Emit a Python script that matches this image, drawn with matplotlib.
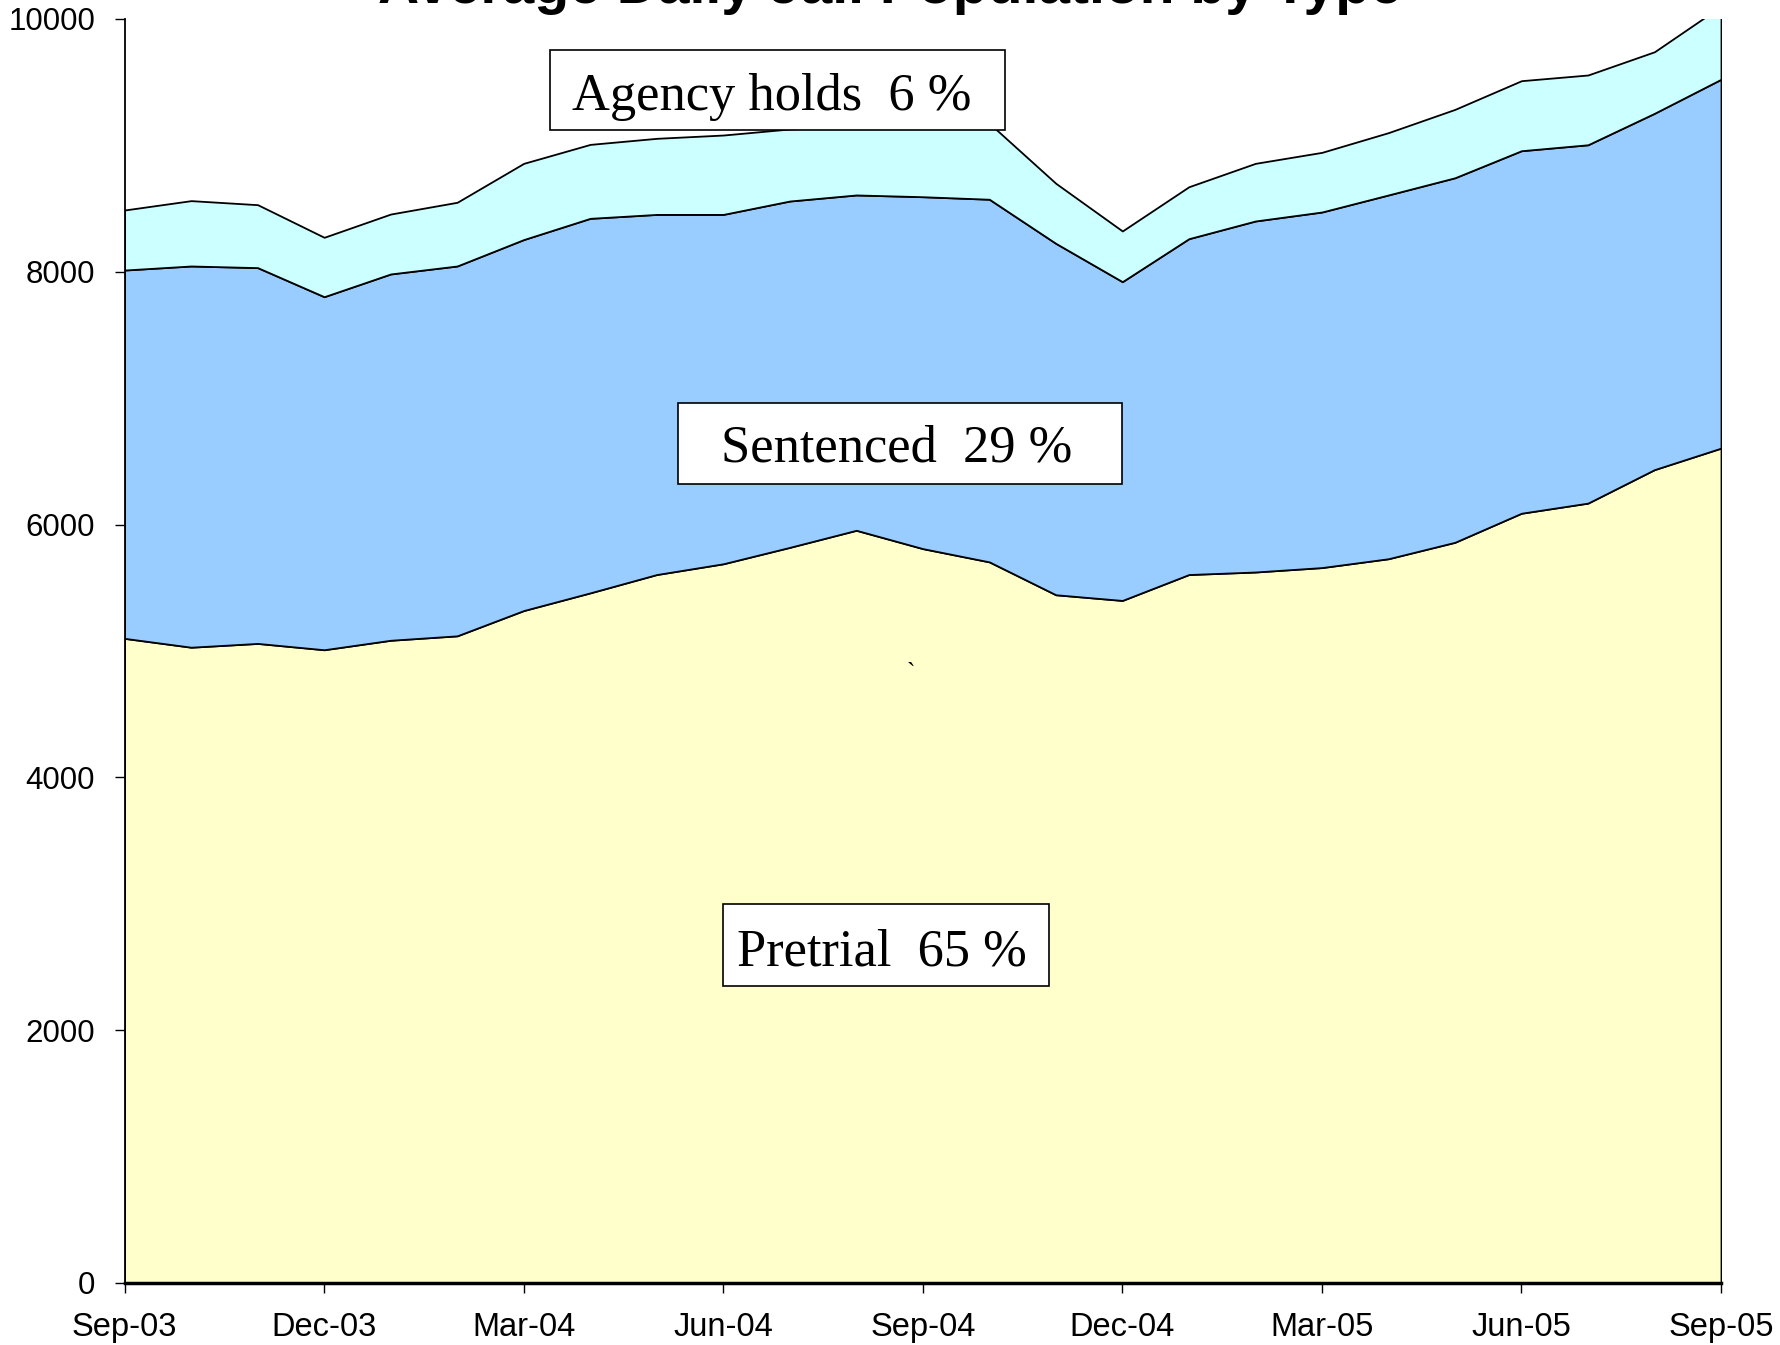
import matplotlib
matplotlib.use("Agg")
import matplotlib.pyplot as plt
from matplotlib.patches import Rectangle
import numpy as np

# monthly averages, Sep-03 .. Sep-05
months = ["Sep-03", "Oct-03", "Nov-03", "Dec-03", "Jan-04", "Feb-04", "Mar-04",
          "Apr-04", "May-04", "Jun-04", "Jul-04", "Aug-04", "Sep-04", "Oct-04",
          "Nov-04", "Dec-04", "Jan-05", "Feb-05", "Mar-05", "Apr-05", "May-05",
          "Jun-05", "Jul-05", "Aug-05", "Sep-05"]
pretrial = [5100, 5030, 5060, 5010, 5085, 5120, 5320, 5460, 5605, 5690, 5820, 5955, 5810,
            5705, 5445, 5400, 5605, 5625, 5660, 5730, 5860, 6090, 6170, 6435, 6605]
sentenced = [2914, 3016, 2973, 2793, 2898, 2926, 2935, 2963, 2849, 2764, 2740, 2653, 2784,
             2869, 2780, 2522, 2657, 2777, 2813, 2878, 2884, 2868, 2835, 2819, 2918]
agency = [475, 517, 498, 470, 474, 504, 603, 585, 602, 628, 570, 542, 566,
          601, 475, 401, 411, 456, 472, 493, 541, 554, 552, 487, 577]

tick_idx = list(range(0, 25, 3))
yticks = [0, 2000, 4000, 6000, 8000, 10000]

title = "Average Daily Jail Population by Type"
labels = ["Pretrial  65 %", "Sentenced  29 %", "Agency holds  6 %"]
colors = ["#FFFFCC", "#99CCFF", "#CCFFFF"]

W, H = 1780, 1345
fig = plt.figure(figsize=(W / 100, H / 100), dpi=100)
ax = fig.add_axes([124.6 / W, 1 - 1283 / H, (1721 - 124.6) / W, (1283 - 19) / H])

x = np.arange(len(months))
ax.stackplot(x, pretrial, sentenced, agency, colors=colors,
             edgecolor="black", linewidth=1.3)

ax.set_xlim(0, len(months) - 1)
ax.set_ylim(0, 10000)
ax.set_xticks(tick_idx)
ax.set_xticklabels([months[i] for i in tick_idx])
ax.set_yticks(yticks)
ax.set_yticklabels([str(v) for v in yticks])

for s in ["top", "right"]:
    ax.spines[s].set_visible(False)
ax.spines["left"].set_linewidth(1.3)
ax.spines["bottom"].set_linewidth(2.5)
ax.tick_params(axis="both", direction="out", length=7.2, width=1, colors="black")
ax.tick_params(axis="y", pad=14, labelsize=22.5)
ax.tick_params(axis="x", pad=14, labelsize=23.5)
for lab in ax.get_xticklabels() + ax.get_yticklabels():
    lab.set_fontfamily("Liberation Sans")

fig.text(0.5, 1 - 3 / H, title, ha="center", va="baseline", fontsize=41,
         fontweight="bold", family="Liberation Sans")

# label boxes (figure pixels: box x0, y0, x1, y1; text centre x, baseline y)
boxes = [(723, 904, 1049, 986, 882, 965),
         (678, 403, 1122, 484, 897, 462),
         (550, 50, 1005, 130, 772, 110)]
for lab, (x0, y0, x1, y1, tx, ty) in zip(labels, boxes):
    fig.patches.append(Rectangle((x0 / W, 1 - y1 / H), (x1 - x0) / W, (y1 - y0) / H,
                                 transform=fig.transFigure, facecolor="white",
                                 edgecolor="black", linewidth=1.2, zorder=5))
    fig.text(tx / W, 1 - ty / H, lab, ha="center", va="baseline", fontsize=37.8,
             family="Liberation Serif", zorder=6)

fig.text(911 / W, 1 - 680 / H, "`", ha="center", va="baseline", fontsize=18,
         family="Liberation Serif")

fig.savefig("out.png", dpi=100)
